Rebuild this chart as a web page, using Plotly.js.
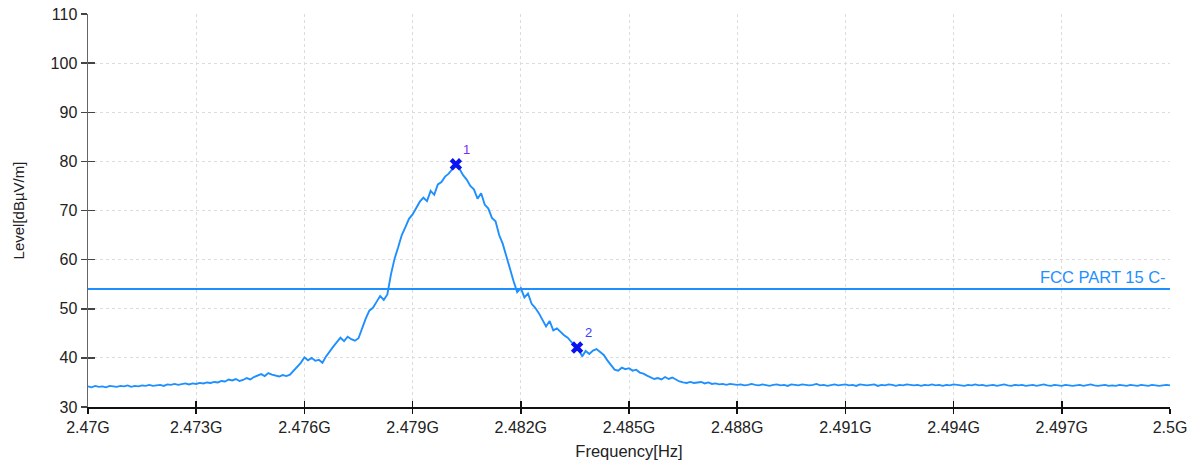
<!DOCTYPE html>
<html>
<head>
<meta charset="utf-8">
<script src="https://cdn.plot.ly/plotly-3.0.1.min.js"></script>
<style>html,body{margin:0;padding:0;background:#fff;}#chart{width:1200px;height:464px;}</style>
</head>
<body>
<div id="chart"></div>
<script>
// Sweep: start frequency (Hz), step (Hz)
const sweepStartHz = 2.47e9;
const sweepStepHz = 0.1e6;

// Measured level, dBµV/m, one value per sweep step (2.470 GHz .. 2.500 GHz)
const levels = [
  34.2,34.0,34.3,34.1,34.2,34.0,34.3,34.2,34.1,34.3,
  34.2,34.4,34.1,34.3,34.2,34.4,34.3,34.5,34.3,34.4,
  34.5,34.3,34.6,34.5,34.7,34.5,34.6,34.8,34.6,34.8,34.7,
  34.9,34.8,35.0,34.9,35.1,35.0,35.3,35.2,35.6,35.4,
  35.7,35.3,35.5,35.9,35.6,36.1,36.4,36.7,36.3,36.9,
  36.6,36.4,36.2,36.5,36.3,36.6,37.4,38.3,39.0,40.1,
  39.5,40.0,39.4,39.6,39.0,40.3,41.4,42.3,43.2,44.1,
  43.4,44.3,43.8,43.5,44.0,46.2,48.0,49.6,50.2,51.4,
  52.6,51.8,52.9,57.0,60.2,62.5,65.0,66.6,68.3,69.2,
  70.6,71.8,72.6,71.9,74.0,73.2,75.3,75.8,76.9,77.5,
  78.4,79.4,78.5,77.2,76.3,75.0,74.3,72.4,73.5,71.2,
  70.4,68.5,67.8,65.0,63.2,60.5,58.2,55.6,53.4,54.2,
  52.3,53.1,51.0,50.2,49.1,47.8,46.4,47.5,45.6,46.0,
  45.2,44.6,44.1,43.3,42.4,41.9,40.3,41.4,40.8,41.5,
  41.8,41.2,40.6,39.5,38.6,37.6,37.4,38.0,37.7,37.9,
  37.4,37.6,37.0,36.8,36.4,36.0,35.7,35.9,35.6,36.1,
  35.7,36.0,35.6,35.2,35.0,34.9,35.1,34.9,35.0,35.1,
  34.8,35.0,34.7,34.8,34.6,34.7,34.5,34.7,34.6,34.5,
  34.6,34.4,34.5,34.7,34.5,34.4,34.6,34.5,34.3,34.5,
  34.6,34.4,34.5,34.3,34.6,34.5,34.4,34.6,34.5,34.4,
  34.5,34.7,34.4,34.5,34.3,34.5,34.6,34.4,34.5,34.6,
  34.4,34.5,34.3,34.6,34.5,34.4,34.5,34.6,34.3,34.5,
  34.4,34.6,34.5,34.3,34.5,34.4,34.6,34.5,34.4,34.5,
  34.3,34.5,34.4,34.6,34.4,34.5,34.3,34.5,34.4,34.6,
  34.5,34.4,34.3,34.5,34.4,34.6,34.4,34.5,34.3,34.4,
  34.5,34.3,34.4,34.6,34.4,34.3,34.5,34.4,34.5,34.3,
  34.4,34.5,34.3,34.4,34.6,34.4,34.3,34.5,34.4,34.3,
  34.5,34.4,34.3,34.4,34.5,34.3,34.4,34.6,34.4,34.3,
  34.4,34.5,34.3,34.4,34.3,34.5,34.4,34.3,34.5,34.4,
  34.3,34.5,34.4,34.3,34.5,34.4,34.3,34.4,34.5,34.4
];

// Limit line
const limitName = "FCC PART 15 C-";
const limitLevel = 54;

// Markers
const markerLabels = ["1", "2"];
const markerFreqHz = [2.4802e9, 2.48356e9];
const markerLevel = [79.4, 42.1];

// Axis ticks
const xTickVals = [2.47e9, 2.473e9, 2.476e9, 2.479e9, 2.482e9, 2.485e9, 2.488e9, 2.491e9, 2.494e9, 2.497e9, 2.5e9];
const xTickText = ["2.47G", "2.473G", "2.476G", "2.479G", "2.482G", "2.485G", "2.488G", "2.491G", "2.494G", "2.497G", "2.5G"];
const yTickVals = [30, 40, 50, 60, 70, 80, 90, 100, 110];

const freqs = levels.map((_, i) => sweepStartHz + i * sweepStepHz);
const xRange = [xTickVals[0], xTickVals[xTickVals.length - 1]];

const FONT = "Liberation Sans, Arial, sans-serif";
const BLUE = "#1e8fff";

const traces = [
  {x: freqs, y: levels, type: "scatter", mode: "lines",
   line: {color: BLUE, width: 1.9}, hoverinfo: "skip"},
  {x: xRange, y: [limitLevel, limitLevel], type: "scatter", mode: "lines",
   line: {color: BLUE, width: 2}, hoverinfo: "skip"},
  {x: markerFreqHz, y: markerLevel, type: "scatter", mode: "markers",
   marker: {symbol: "x", size: 11, color: "#0a14f0", line: {width: 0}}, hoverinfo: "skip"},
  {x: xRange, y: [yTickVals[0], yTickVals[0]], xaxis: "x2", yaxis: "y2", type: "scatter",
   mode: "lines", line: {width: 0}, hoverinfo: "skip"}
];

const annotations = [
  {x: xRange[1], y: limitLevel, xref: "x", yref: "y", text: limitName, showarrow: false,
   xanchor: "right", yanchor: "bottom", xshift: -2, yshift: 1,
   font: {family: FONT, size: 16.5, color: BLUE}}
].concat(markerLabels.map((t, i) => ({
   x: markerFreqHz[i], y: markerLevel[i], xref: "x", yref: "y", text: t, showarrow: false,
   xanchor: "center", yanchor: "middle", xshift: 11, yshift: 15,
   font: {family: FONT, size: 13, color: i === 0 ? "#7a2cf0" : "#3c3cff"}})));

const layout = {
  width: 1200, height: 464,
  margin: {l: 88, r: 30, t: 14, b: 57},
  paper_bgcolor: "#fff", plot_bgcolor: "#fff",
  showlegend: false,
  font: {family: FONT, color: "#222"},
  xaxis: {
    range: xRange, tickvals: xTickVals, ticktext: xTickText,
    showgrid: true, gridcolor: "#dcdcdc", griddash: "3px,3px", gridwidth: 1,
    showline: true, linecolor: "#111", linewidth: 1.5,
    ticks: "outside", ticklen: 5, tickcolor: "#111", tickwidth: 1.5,
    tickfont: {family: FONT, size: 16, color: "#222"},
    zeroline: false,
    title: {text: "Frequency[Hz]", font: {family: FONT, size: 16.5, color: "#222"}, standoff: 10}
  },
  yaxis: {
    range: [yTickVals[0], yTickVals[yTickVals.length - 1]], tickvals: yTickVals,
    showgrid: true, gridcolor: "#dcdcdc", griddash: "3px,3px", gridwidth: 1,
    showline: true, linecolor: "#666", linewidth: 1.5,
    ticks: "outside", ticklen: 6, tickcolor: "#444", tickwidth: 1.5,
    tickfont: {family: FONT, size: 16, color: "#222"},
    zeroline: false,
    title: {text: "Level[dBµV/m]", font: {family: FONT, size: 15, color: "#222"}, standoff: 22}
  },
  xaxis2: {
    overlaying: "x", anchor: "y2", range: xRange, tickvals: xTickVals,
    showgrid: false, showline: false, zeroline: false, showticklabels: false,
    ticks: "inside", ticklen: 6, tickcolor: "#111", tickwidth: 1.5
  },
  yaxis2: {
    overlaying: "y", anchor: "x2", range: [yTickVals[0], yTickVals[yTickVals.length - 1]], tickvals: yTickVals,
    showgrid: false, showline: false, zeroline: false, showticklabels: false,
    ticks: "inside", ticklen: 7, tickcolor: "#444", tickwidth: 1.5
  },
  annotations: annotations
};

Plotly.newPlot("chart", traces, layout, {staticPlot: true, displayModeBar: false});
</script>
</body>
</html>
